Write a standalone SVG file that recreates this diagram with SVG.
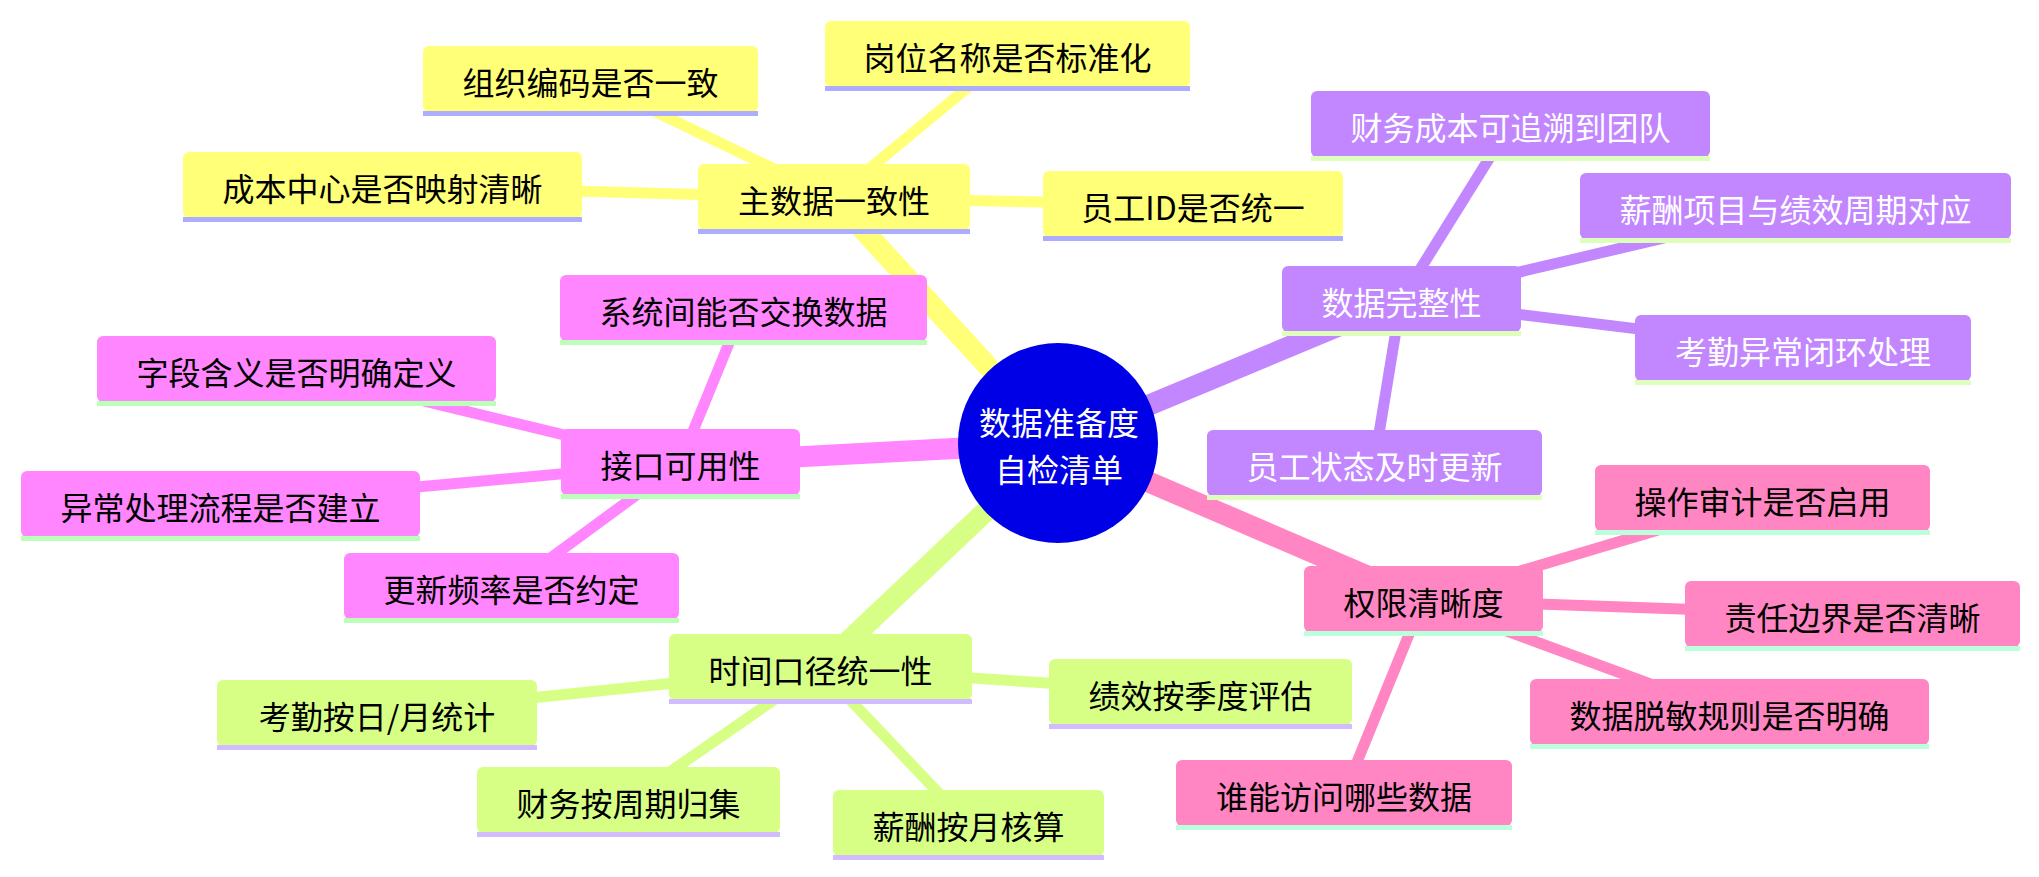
<svg xmlns="http://www.w3.org/2000/svg" width="2039" height="877" viewBox="0 0 2039 877">
<style>
.t{font-family:"Noto Sans CJK SC","Noto Sans",sans-serif;font-size:32px;text-anchor:middle;dominant-baseline:central;fill:#000}
.w{fill:#fff}
.e0{stroke-width:21;fill:none;stroke-linecap:butt}
.e1{stroke-width:11;fill:none;stroke-linecap:butt}
.y{stroke:#ffff78}.m{stroke:#ff86ff}.g{stroke:#d7ff86}.p{stroke:#c286ff}.k{stroke:#ff86c2}
.fy{fill:#ffff78}.fm{fill:#ff86ff}.fg{fill:#d7ff86}.fp{fill:#c286ff}.fk{fill:#ff86c2}
.ly{fill:#adadff}.lm{fill:#bbffbb}.lg{fill:#d2bbff}.lp{fill:#ddffbb}.lk{fill:#bbffdd}
</style>
<rect width="2039" height="877" fill="#fff"/>
<g id="connectors">
<line class="e0 y" x1="1058" y1="443" x2="834" y2="198"/>
<line class="e0 m" x1="1058" y1="443" x2="680" y2="463"/>
<line class="e0 g" x1="1058" y1="443" x2="820" y2="668"/>
<line class="e0 p" x1="1058" y1="443" x2="1401" y2="300"/>
<line class="e0 k" x1="1058" y1="443" x2="1423" y2="600"/>
<line class="e1 y" x1="834" y1="198" x2="590" y2="80"/>
<line class="e1 y" x1="834" y1="198" x2="1007" y2="55"/>
<line class="e1 y" x1="834" y1="198" x2="382" y2="186"/>
<line class="e1 y" x1="834" y1="198" x2="1193" y2="205"/>
<line class="e1 m" x1="680" y1="463" x2="743" y2="309"/>
<line class="e1 m" x1="680" y1="463" x2="296" y2="370"/>
<line class="e1 m" x1="680" y1="463" x2="220" y2="505"/>
<line class="e1 m" x1="680" y1="463" x2="511" y2="587"/>
<line class="e1 g" x1="820" y1="668" x2="377" y2="714"/>
<line class="e1 g" x1="820" y1="668" x2="628" y2="801"/>
<line class="e1 g" x1="820" y1="668" x2="968" y2="824"/>
<line class="e1 g" x1="820" y1="668" x2="1200" y2="693"/>
<line class="e1 p" x1="1401" y1="300" x2="1510" y2="125"/>
<line class="e1 p" x1="1401" y1="300" x2="1795" y2="207"/>
<line class="e1 p" x1="1401" y1="300" x2="1803" y2="349"/>
<line class="e1 p" x1="1401" y1="300" x2="1374" y2="464"/>
<line class="e1 k" x1="1423" y1="600" x2="1762" y2="499"/>
<line class="e1 k" x1="1423" y1="600" x2="1852" y2="615"/>
<line class="e1 k" x1="1423" y1="600" x2="1729" y2="713"/>
<line class="e1 k" x1="1423" y1="600" x2="1344" y2="794"/>
</g>
<g id="root">
<circle cx="1058" cy="443" r="100" fill="#0000e6"/>
<text class="t w" x="1059" y="421">数据准备度</text>
<text class="t w" x="1059" y="468">自检清单</text>
</g>
<g id="n-zhushuju"><rect class="fy" x="698" y="164" width="272" height="66" rx="6"/><rect class="ly" x="698" y="229" width="272" height="5"/><text class="t" x="834" y="199">主数据一致性</text></g>
<g id="n-zuzhi"><rect class="fy" x="423" y="46" width="335" height="66" rx="6"/><rect class="ly" x="423" y="111" width="335" height="5"/><text class="t" x="590.5" y="81">组织编码是否一致</text></g>
<g id="n-gangwei"><rect class="fy" x="825" y="21" width="365" height="66" rx="6"/><rect class="ly" x="825" y="86" width="365" height="5"/><text class="t" x="1007.5" y="56">岗位名称是否标准化</text></g>
<g id="n-chengben"><rect class="fy" x="183" y="152" width="399" height="66" rx="6"/><rect class="ly" x="183" y="217" width="399" height="5"/><text class="t" x="382.5" y="187">成本中心是否映射清晰</text></g>
<g id="n-yuangongid"><rect class="fy" x="1043" y="171" width="300" height="66" rx="6"/><rect class="ly" x="1043" y="236" width="300" height="5"/><text class="t" x="1193" y="206">员工ID是否统一</text></g>
<g id="n-jiekou"><rect class="fm" x="561" y="429" width="239" height="66" rx="6"/><rect class="lm" x="561" y="494" width="239" height="5"/><text class="t" x="680.5" y="464">接口可用性</text></g>
<g id="n-xitong"><rect class="fm" x="560" y="275" width="367" height="66" rx="6"/><rect class="lm" x="560" y="340" width="367" height="5"/><text class="t" x="743.5" y="310">系统间能否交换数据</text></g>
<g id="n-ziduan"><rect class="fm" x="97" y="336" width="399" height="66" rx="6"/><rect class="lm" x="97" y="401" width="399" height="5"/><text class="t" x="296.5" y="371">字段含义是否明确定义</text></g>
<g id="n-yichang"><rect class="fm" x="21" y="471" width="399" height="66" rx="6"/><rect class="lm" x="21" y="536" width="399" height="5"/><text class="t" x="220.5" y="506">异常处理流程是否建立</text></g>
<g id="n-gengxin"><rect class="fm" x="344" y="553" width="335" height="66" rx="6"/><rect class="lm" x="344" y="618" width="335" height="5"/><text class="t" x="511.5" y="588">更新频率是否约定</text></g>
<g id="n-shijian"><rect class="fg" x="669" y="634" width="303" height="66" rx="6"/><rect class="lg" x="669" y="699" width="303" height="5"/><text class="t" x="820.5" y="669">时间口径统一性</text></g>
<g id="n-kaoqin"><rect class="fg" x="217" y="680" width="320" height="66" rx="6"/><rect class="lg" x="217" y="745" width="320" height="5"/><text class="t" x="377" y="715">考勤按日/月统计</text></g>
<g id="n-caiwu"><rect class="fg" x="477" y="767" width="303" height="66" rx="6"/><rect class="lg" x="477" y="832" width="303" height="5"/><text class="t" x="628.5" y="802">财务按周期归集</text></g>
<g id="n-xinchou"><rect class="fg" x="833" y="790" width="271" height="66" rx="6"/><rect class="lg" x="833" y="855" width="271" height="5"/><text class="t" x="968.5" y="825">薪酬按月核算</text></g>
<g id="n-jixiao"><rect class="fg" x="1049" y="659" width="303" height="66" rx="6"/><rect class="lg" x="1049" y="724" width="303" height="5"/><text class="t" x="1200.5" y="694">绩效按季度评估</text></g>
<g id="n-wanzheng"><rect class="fp" x="1282" y="266" width="239" height="66" rx="6"/><rect class="lp" x="1282" y="331" width="239" height="5"/><text class="t w" x="1401.5" y="301">数据完整性</text></g>
<g id="n-caiwuchengben"><rect class="fp" x="1311" y="91" width="399" height="66" rx="6"/><rect class="lp" x="1311" y="156" width="399" height="5"/><text class="t w" x="1510.5" y="126">财务成本可追溯到团队</text></g>
<g id="n-xinchouxiangmu"><rect class="fp" x="1580" y="173" width="431" height="66" rx="6"/><rect class="lp" x="1580" y="238" width="431" height="5"/><text class="t w" x="1795.5" y="208">薪酬项目与绩效周期对应</text></g>
<g id="n-kaoqinyichang"><rect class="fp" x="1635" y="315" width="336" height="66" rx="6"/><rect class="lp" x="1635" y="380" width="336" height="5"/><text class="t w" x="1803" y="350">考勤异常闭环处理</text></g>
<g id="n-yuangongzhuangtai"><rect class="fp" x="1207" y="430" width="335" height="66" rx="6"/><rect class="lp" x="1207" y="495" width="335" height="5"/><text class="t w" x="1374.5" y="465">员工状态及时更新</text></g>
<g id="n-quanxian"><rect class="fk" x="1304" y="566" width="239" height="66" rx="6"/><rect class="lk" x="1304" y="631" width="239" height="5"/><text class="t" x="1423.5" y="601">权限清晰度</text></g>
<g id="n-caozuo"><rect class="fk" x="1595" y="465" width="335" height="66" rx="6"/><rect class="lk" x="1595" y="530" width="335" height="5"/><text class="t" x="1762.5" y="500">操作审计是否启用</text></g>
<g id="n-zeren"><rect class="fk" x="1685" y="581" width="335" height="66" rx="6"/><rect class="lk" x="1685" y="646" width="335" height="5"/><text class="t" x="1852.5" y="616">责任边界是否清晰</text></g>
<g id="n-tuomin"><rect class="fk" x="1530" y="679" width="399" height="66" rx="6"/><rect class="lk" x="1530" y="744" width="399" height="5"/><text class="t" x="1729.5" y="714">数据脱敏规则是否明确</text></g>
<g id="n-shuineng"><rect class="fk" x="1176" y="760" width="336" height="66" rx="6"/><rect class="lk" x="1176" y="825" width="336" height="5"/><text class="t" x="1344" y="795">谁能访问哪些数据</text></g>
</svg>
